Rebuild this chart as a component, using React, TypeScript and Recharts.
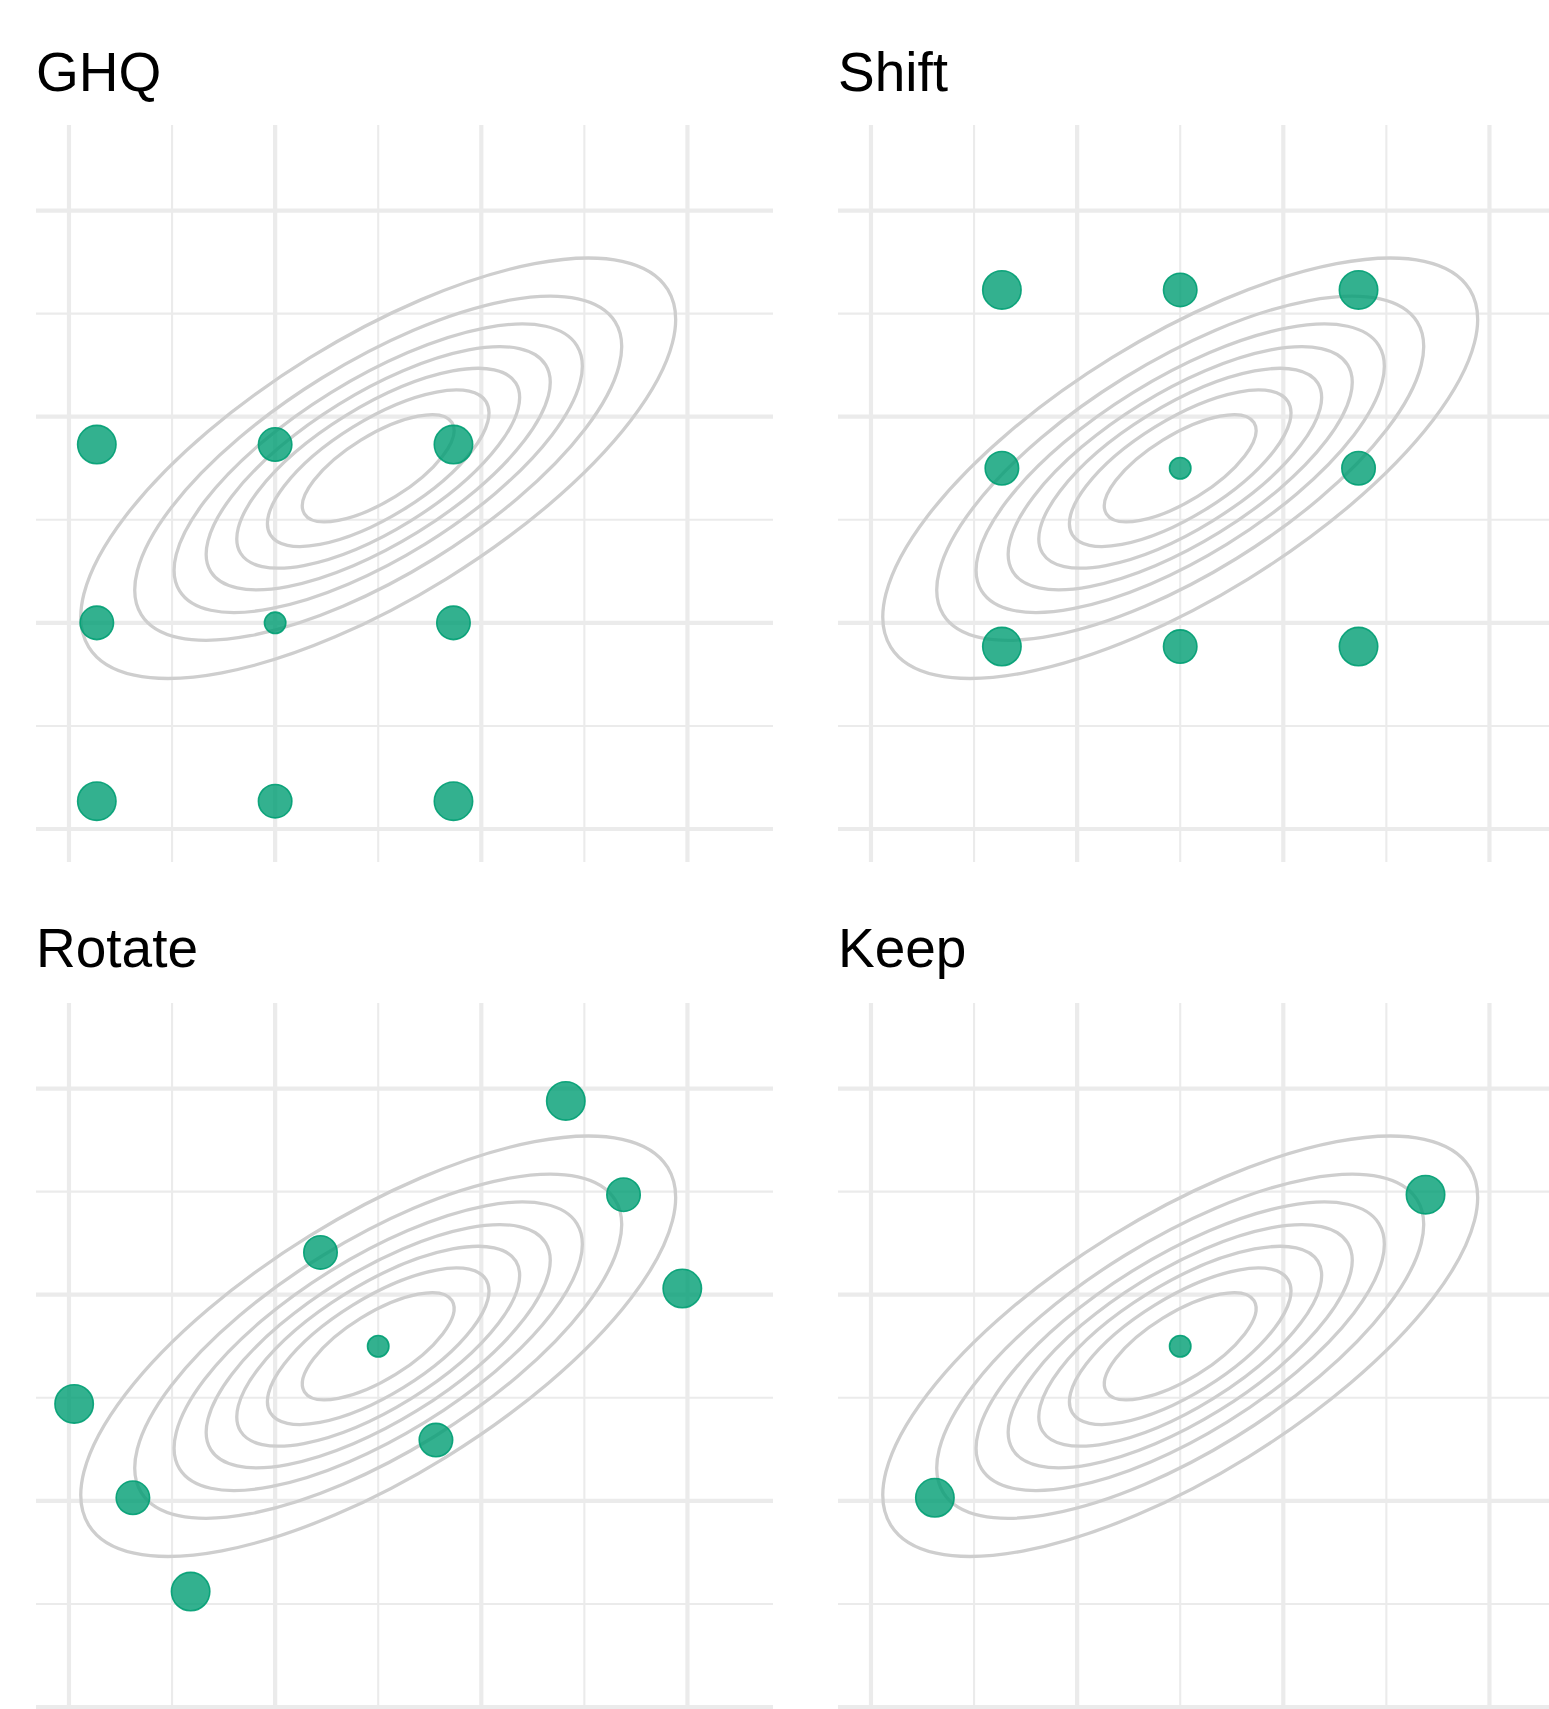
import React from 'react';
import { ScatterChart, Scatter, XAxis, YAxis, CartesianGrid, ReferenceArea } from 'recharts';

// ---- axis / grid values (same for every panel) ----
const gridBreaks = [-2, -1, 0, 1, 2, 3, 4];
const axisDomain: [number, number] = [-2.32, 4.83];

// ---- posterior density contours (centre, principal sd's, tilt, Mahalanobis radii of the 7 levels) ----
const contourCenterX = 1;
const contourCenterY = 1.5;
const contourSdMajor = 1.618;
const contourSdMinor = 0.618;
const contourAngleDeg = 31.7;
const contourRadii = [0.52, 0.76, 0.97, 1.18, 1.4, 1.67, 2.04];

// ---- panel titles ----
const panelTitles = ['GHQ', 'Shift', 'Rotate', 'Keep'];

// ---- GHQ nodes ----
const ghqX = [-1.73, 0, 1.73, -1.73, 0, 1.73, -1.73, 0, 1.73];
const ghqY = [-1.73, -1.73, -1.73, 0, 0, 0, 1.73, 1.73, 1.73];
const ghqW = [0.028, 0.111, 0.028, 0.111, 0.444, 0.111, 0.028, 0.111, 0.028];

// ---- shifted nodes ----
const shiftX = [-0.73, 1, 2.73, -0.73, 1, 2.73, -0.73, 1, 2.73];
const shiftY = [-0.23, -0.23, -0.23, 1.5, 1.5, 1.5, 3.23, 3.23, 3.23];
const shiftW = [0.028, 0.111, 0.028, 0.111, 0.444, 0.111, 0.028, 0.111, 0.028];

// ---- rotated nodes ----
const rotateX = [-0.82, 1.56, 3.95, -1.38, 1, 3.38, -1.95, 0.44, 2.82];
const rotateY = [-0.88, 0.59, 2.06, 0.03, 1.5, 2.97, 0.94, 2.41, 3.88];
const rotateW = [0.028, 0.111, 0.028, 0.111, 0.444, 0.111, 0.028, 0.111, 0.028];

// ---- kept nodes ----
const keepX = [-1.38, 1, 3.38];
const keepY = [0.03, 1.5, 2.97];
const keepW = [0.167, 0.667, 0.167];

const panelXs = [ghqX, shiftX, rotateX, keepX];
const panelYs = [ghqY, shiftY, rotateY, keepY];
const panelWs = [ghqW, shiftW, rotateW, keepW];

// ---- layout ----
const PANEL = 737;
const panelLeft = [36, 838, 36, 838];
const panelTop = [125, 125, 1003, 1003];
const titleBaseline = [90.7, 90.7, 967, 967];

const POINT = '#009E73';
const R_MIN = 11.5;
const R_MAX = 20;

const theta = (contourAngleDeg * Math.PI) / 180;
const HX = Math.sqrt(
  contourSdMajor ** 2 * Math.cos(theta) ** 2 + contourSdMinor ** 2 * Math.sin(theta) ** 2
);
const HY = Math.sqrt(
  contourSdMajor ** 2 * Math.sin(theta) ** 2 + contourSdMinor ** 2 * Math.cos(theta) ** 2
);

const gridLine = (props: any) => {
  const { x1, y1, x2, y2, index, key } = props;
  const major = typeof index === 'number' ? index % 2 === 0 : false;
  return (
    <line
      key={key}
      x1={x1}
      y1={y1}
      x2={x2}
      y2={y2}
      stroke="#ebebeb"
      strokeWidth={major ? 4.2 : 2.1}
    />
  );
};

const makeEllipse = (d: number) => (props: any) => {
  const x = Math.min(props.x, props.x + props.width);
  const y = Math.min(props.y, props.y + props.height);
  const w = Math.abs(props.width);
  const h = Math.abs(props.height);
  const sx = w / (2 * d * HX);
  const sy = h / (2 * d * HY);
  const s = (sx + sy) / 2;
  const cx = x + w / 2;
  const cy = y + h / 2;
  return (
    <ellipse
      cx={cx}
      cy={cy}
      rx={d * contourSdMajor * s}
      ry={d * contourSdMinor * s}
      transform={`rotate(${-contourAngleDeg} ${cx} ${cy})`}
      fill="none"
      stroke="#cecece"
      strokeWidth={3.3}
    />
  );
};

const makeDot = (zMin: number, zMax: number) => (props: any) => {
  const { cx, cy, payload } = props;
  if (cx == null || cy == null) return <g />;
  const z = Math.log(1 / payload.w);
  const t = zMax > zMin ? (z - zMin) / (zMax - zMin) : 0;
  const r = R_MIN + (R_MAX - R_MIN) * Math.sqrt(Math.max(0, t));
  return (
    <circle
      cx={cx}
      cy={cy}
      r={r - 0.8}
      fill={POINT}
      fillOpacity={0.8}
      stroke={POINT}
      strokeOpacity={0.9}
      strokeWidth={1.6}
    />
  );
};

function Panel({ idx }: { idx: number }) {
  const xs = panelXs[idx];
  const ys = panelYs[idx];
  const ws = panelWs[idx];
  const data = xs.map((x, i) => ({ x, y: ys[i], w: ws[i] }));
  const zs = ws.map((w) => Math.log(1 / w));
  const zMin = Math.min(...zs);
  const zMax = Math.max(...zs);
  return (
    <div style={{ position: 'absolute', left: panelLeft[idx], top: panelTop[idx] }}>
      <ScatterChart width={PANEL} height={PANEL} margin={{ top: 0, right: 0, bottom: 0, left: 0 }}>
        <CartesianGrid horizontal={gridLine} vertical={gridLine} syncWithTicks />
        <XAxis
          type="number"
          dataKey="x"
          domain={axisDomain}
          ticks={gridBreaks}
          allowDataOverflow
          hide
        />
        <YAxis
          type="number"
          dataKey="y"
          domain={axisDomain}
          ticks={gridBreaks}
          allowDataOverflow
          hide
        />
        {contourRadii.map((d) => (
          <ReferenceArea
            key={d}
            x1={contourCenterX - d * HX}
            x2={contourCenterX + d * HX}
            y1={contourCenterY - d * HY}
            y2={contourCenterY + d * HY}
            ifOverflow="visible"
            shape={makeEllipse(d)}
          />
        ))}
        <Scatter data={data} isAnimationActive={false} shape={makeDot(zMin, zMax)} />
      </ScatterChart>
    </div>
  );
}

export default function App() {
  return (
    <div
      style={{
        position: 'absolute',
        left: 0,
        top: 0,
        width: 1549,
        height: 1709,
        overflow: 'hidden',
        background: '#ffffff',
      }}
    >
      {[0, 1, 2, 3].map((i) => (
        <Panel key={i} idx={i} />
      ))}
      <svg
        width={1549}
        height={1709}
        style={{ position: 'absolute', left: 0, top: 0, pointerEvents: 'none' }}
      >
        {panelTitles.map((t, i) => (
          <text
            key={t}
            x={panelLeft[i]}
            y={titleBaseline[i]}
            fontFamily="'Liberation Sans', Arial, Helvetica, sans-serif"
            fontSize={55}
            fill="#000000"
          >
            {t}
          </text>
        ))}
      </svg>
    </div>
  );
}
